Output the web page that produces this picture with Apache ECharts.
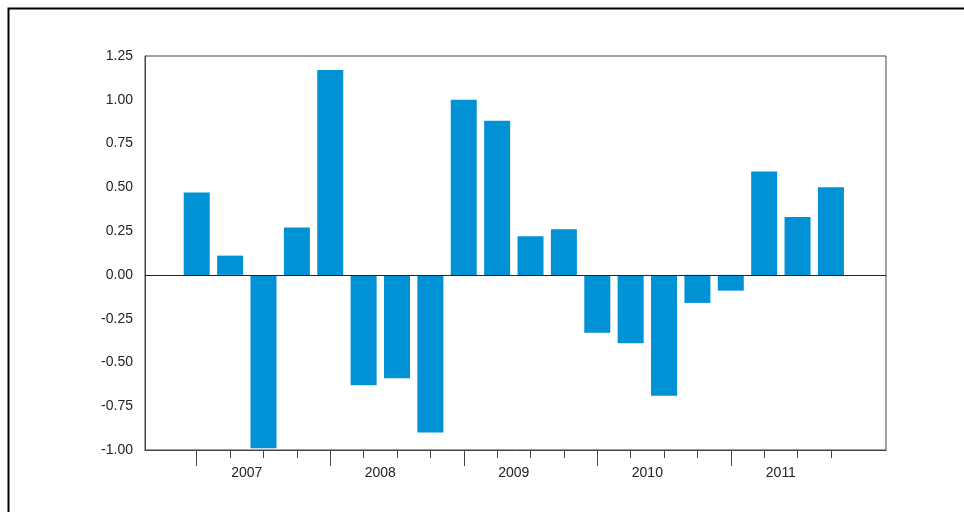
<!DOCTYPE html>
<html>
<head>
<meta charset="utf-8">
<script src="https://cdn.jsdelivr.net/npm/echarts@6/dist/echarts.min.js"></script>
<style>
body{margin:0;background:#fff}
#main{width:964px;height:512px}
</style>
</head>
<body>
<div id="main"></div>
<script>
// quarterly values 2007Q1 .. 2011Q4
var quarters = [1,2,3,4,5,6,7,8,9,10,11,12,13,14,15,16,17,18,19,20]
var values = [0.47, 0.11, -0.99, 0.27, 1.17, -0.63, -0.59, -0.90, 1.00, 0.88,
              0.22, 0.26, -0.33, -0.39, -0.69, -0.16, -0.09, 0.59, 0.33, 0.50]
var years = ['2007', '2008', '2009', '2010', '2011']
var yearTicks = [1, 5, 9, 13, 17]
var yearLabelPos = [2.5, 6.5, 10.5, 14.5, 18.5]

var font = '"Liberation Sans Narrow", "Liberation Sans", sans-serif'
var chart = echarts.init(document.getElementById('main'))

var option = {
    animation: false,
    graphic: [{
        type: 'rect', left: 6, top: 6,
        shape: {width: 1000, height: 600},
        style: {fill: 'none', stroke: '#000', lineWidth: 2}
    }],
    grid: {left: 145, right: 78, top: 56, bottom: 62, show: true, borderColor: '#444', borderWidth: 1},
    xAxis: [{
        type: 'value', min: -0.55, max: 21.65,
        splitLine: {show: false},
        axisLine: {onZero: false, lineStyle: {color: '#444'}},
        axisTick: {customValues: quarters, length: 8, lineStyle: {color: '#444'}},
        axisLabel: {customValues: yearLabelPos, color: '#222', fontSize: 14, fontFamily: font, margin: 16,
            formatter: function (v) { return years[Math.round((v - 2.5) / 4)] }}
    }, {
        type: 'value', min: -0.55, max: 21.65, position: 'bottom',
        splitLine: {show: false},
        axisLine: {show: false, onZero: false},
        axisTick: {customValues: yearTicks, length: 16, lineStyle: {color: '#444'}},
        axisLabel: {show: false}
    }],
    yAxis: {
        type: 'value', min: -1, max: 1.25, interval: 0.25,
        splitLine: {show: false},
        axisLine: {show: true, onZero: false, lineStyle: {color: '#444'}},
        axisTick: {show: false},
        axisLabel: {color: '#222', fontSize: 14, fontFamily: font, margin: 12,
            formatter: function (v) { return v.toFixed(2) }}
    },
    series: [{
        type: 'bar',
        data: quarters.map(function (q, i) { return [q, values[i]] }),
        barWidth: 26,
        itemStyle: {color: '#0092d4'},
        markLine: {
            silent: true, symbol: 'none', label: {show: false},
            lineStyle: {color: '#222', type: 'solid', width: 1},
            data: [{yAxis: 0}]
        }
    }]
}
chart.setOption(option)
</script>
</body>
</html>
